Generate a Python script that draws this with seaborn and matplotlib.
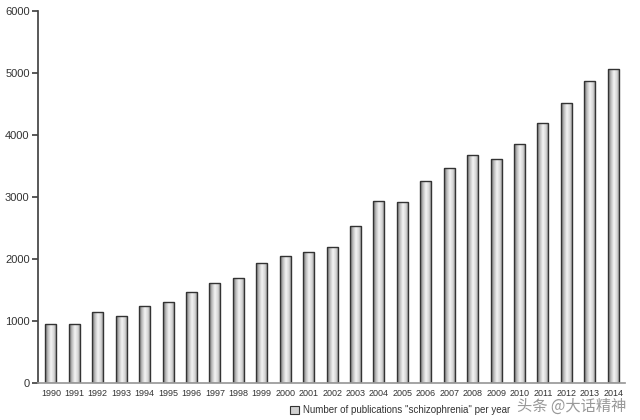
import numpy as np
import pandas as pd
import matplotlib
matplotlib.use("Agg")
import matplotlib.pyplot as plt
import seaborn as sns
from matplotlib.colors import LinearSegmentedColormap
from matplotlib.patches import Patch

years = [str(y) for y in range(1990, 2015)]
publications = [950, 950, 1140, 1075, 1250, 1310, 1470, 1620, 1690, 1935,
                2045, 2115, 2200, 2530, 2935, 2915, 3260, 3470, 3680, 3610,
                3850, 4195, 4510, 4870, 5060]
legend_label = 'Number of publications "schizophrenia" per year'

df = pd.DataFrame({"year": years, "count": publications})

sns.set_theme(style="ticks")
plt.rcParams["font.family"] = ["Liberation Sans", "DejaVu Sans"]

fig = plt.figure(figsize=(6.4, 4.2), dpi=100)
ax = fig.add_axes([38 / 640, 1 - 383 / 420, 587 / 640, 372 / 420])

sns.barplot(data=df, x="year", y="count", width=0.47, color="#cfcfcf",
            edgecolor="#333333", linewidth=1.0, ax=ax)

# cylinder-like shading on each bar
cyl = LinearSegmentedColormap.from_list(
    "cyl", ["#6e6e6e", "#bdbdbd", "#f4f4f4", "#d6d6d6", "#8a8a8a"])
grad = np.linspace(0, 1, 64).reshape(1, -1)
for bar in ax.patches:
    x0, y0 = bar.get_x(), bar.get_y()
    w, h = bar.get_width(), bar.get_height()
    im = ax.imshow(grad, cmap=cyl, aspect="auto",
                   extent=(x0, x0 + w, y0, y0 + h), zorder=bar.get_zorder() + 0.1)
    im.set_clip_path(bar)
    bar.set_facecolor("none")
    bar.set_zorder(bar.get_zorder() + 0.2)

ax.set_xlim(-0.55, 24.5)
ax.set_ylim(0, 6000)
ax.set_yticks(range(0, 7000, 1000))
ax.set_xlabel("")
ax.set_ylabel("")
sns.despine(ax=ax)
ax.spines["left"].set_color("#444444")
ax.spines["bottom"].set_color("#999999")
ax.tick_params(axis="y", labelsize=8, length=4, color="#444444", labelcolor="#333333", pad=2)
ax.tick_params(axis="x", labelsize=6.5, length=0, labelcolor="#333333", pad=4)

handle = Patch(facecolor="#d0d0d0", edgecolor="#333333", linewidth=0.8)
fig.legend([handle], [legend_label], loc="center", bbox_to_anchor=(400 / 640, 1 - 410 / 420),
           frameon=False, fontsize=7, handlelength=0.9, handleheight=0.9, handletextpad=0.4,
           labelcolor="#333333")

# watermark, kept just below the year labels
fig.text(572 / 640, 1 - 406 / 420, "头条 @大话精神", fontsize=11, color="#555555", alpha=0.6,
         family=["Noto Sans CJK SC", "DejaVu Sans"], ha="center", va="center")

fig.savefig("out.png", dpi=100)
